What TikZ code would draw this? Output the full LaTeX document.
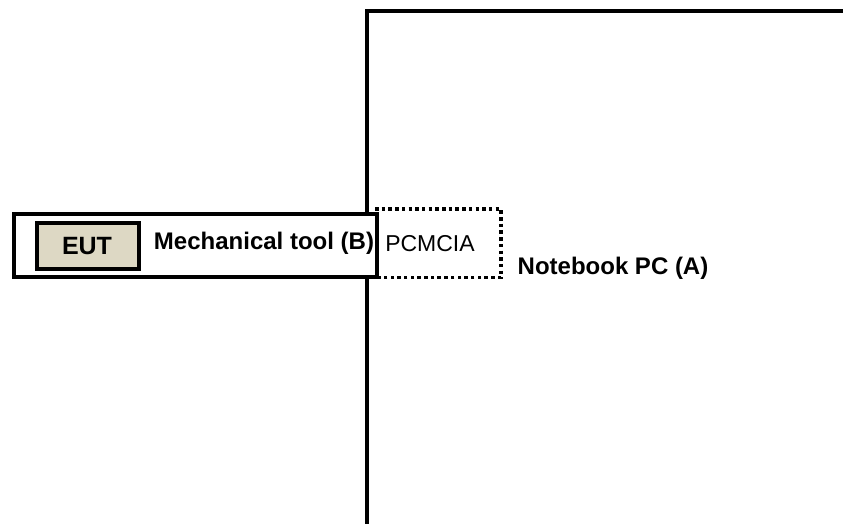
\documentclass[tikz,border=0pt]{standalone}
\usepackage{fontspec}
\setmainfont{Liberation Sans}
\begin{document}
\begin{tikzpicture}[x=1pt,y=-1pt,
  thickline/.style={line width=4pt},
  boldlabel/.style={font=\fontsize{24}{28}\selectfont\bfseries, inner sep=0pt},
  plainlabel/.style={font=\fontsize{23}{27}\selectfont, inner sep=0pt},
  dotbox/.style={line width=3.6pt, dash pattern=on 3.5pt off 3.2pt},
]
\useasboundingbox (0,0) rectangle (843,524);
% Notebook PC outline
\coordinate (nbBottom) at (366.5,526);
\coordinate (nbCorner) at (366.5,11);
\coordinate (nbRight) at (845,11);
\draw[thickline, line join=miter] (nbBottom) -- (nbCorner) -- (nbRight);
% PCMCIA dotted card
\draw[dotbox] (375,209) -- (501,209) -- (501,277.5) -- (375,277.5);
% Mechanical tool box
\node[draw, thickline, fill=white, minimum width=363pt, minimum height=63pt, anchor=north west, inner sep=0pt] (tool) at (12,212) {};
% EUT box
\node[draw, thickline, fill={rgb,255:red,221;green,216;blue,196}, minimum width=102pt, minimum height=46pt, inner sep=0pt] (eut) at (88,245.5) {};
\node[boldlabel, font=\fontsize{25}{29}\selectfont\bfseries] (euttext) at (87,246) {EUT};
\node[boldlabel] (mech) at (264,243.5) {Mechanical tool (B)};
\node[plainlabel] (pcmcia) at (430,243.5) {PCMCIA};
\node[boldlabel] (nb) at (613,268) {Notebook PC (A)};
\end{tikzpicture}
\end{document}
